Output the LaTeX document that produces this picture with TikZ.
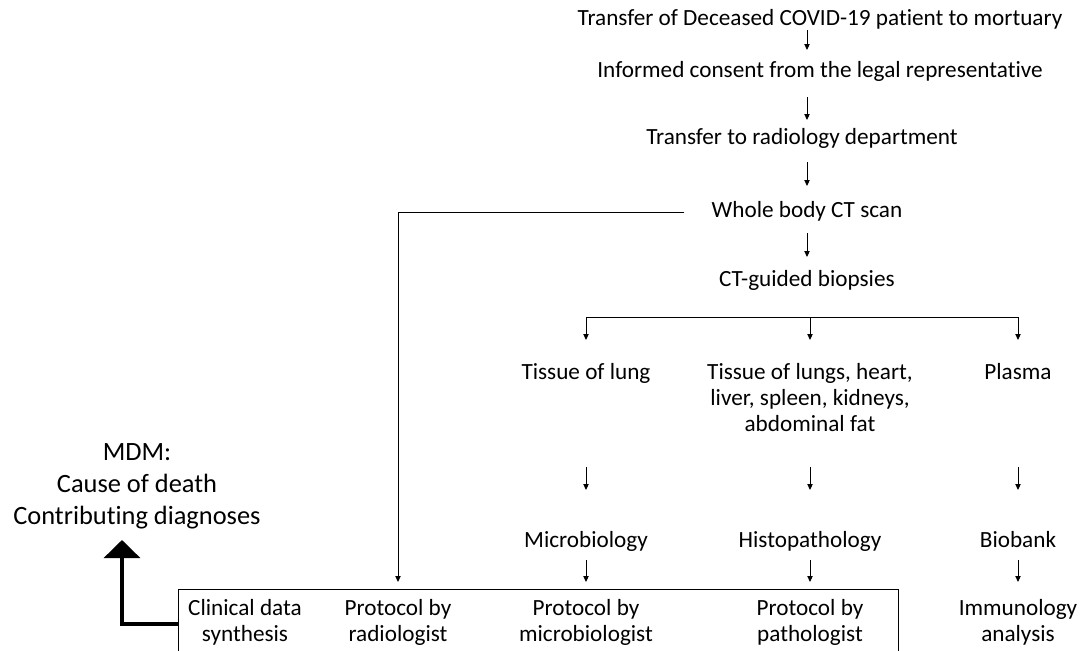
\documentclass[tikz,border=0pt]{standalone}
\usepackage{fontspec}
\setmainfont{Carlito}[Ligatures=NoCommon]
\usetikzlibrary{arrows.meta}
\newdimen\px \px=0.75pt
\begin{document}
\begin{tikzpicture}[x=0.75pt, y=-0.75pt, font=\fontsize{17.4}{19.6}\selectfont,
	txt/.style={inner sep=0pt, align=center, execute at begin node=\strut, execute at end node=\strut},
	link/.style={line width=0.7pt},
	flow/.style={link, -{Triangle[length=4.5pt,width=4pt]}},
	mdmarrow/.style={line width=2.3pt, -{Triangle[length=13.5pt,width=27pt]}}]
	\useasboundingbox (0,0) rectangle (1089,650);
	% steps after death
	\node[txt] (trans) at (820,20) {Transfer of Deceased COVID-19 patient to mortuary};
	\node[txt] (consent) at (820,72) {Informed consent from the legal representative};
	\node[txt] (radio) at (802,139) {Transfer to radiology department};
	\node[txt] (ctscan) at (807,212) {Whole body CT scan};
	\node[txt] (biop) at (807,281) {CT-guided biopsies};
	\draw[flow, shorten <=10\px, shorten >=22\px] (trans -| biop) -- (consent -| biop);
	\draw[flow, shorten <=25\px, shorten >=19\px] (consent -| biop) -- (radio -| biop);
	\draw[flow, shorten <=23\px, shorten >=26\px] (radio -| biop) -- (ctscan.center);
	\draw[flow, shorten <=21\px, shorten >=24\px] (ctscan.center) -- (biop.center);
	% samples
	\coordinate (split) at (807,317);
	\node[txt] (lung) at (586,374) {Tissue of lung};
	\node[txt] (organs) at (810,401) {Tissue of lungs, heart,\\liver, spleen, kidneys,\\abdominal fat};
	\node[txt] (plasma) at (1018,374) {Plasma};
	\draw[link] (split -| lung) -- (split -| plasma);
	\draw[flow, shorten >=34\px] (split -| lung) -- (lung.center);
	\draw[flow, shorten >=61\px] (split -| organs) -- (organs.center);
	\draw[flow, shorten >=34\px] (split -| plasma) -- (plasma.center);
	% analyses
	\node[txt] (micro) at (586,542) {Microbiology};
	\node[txt] (histo) at (810,542) {Histopathology};
	\node[txt] (biobank) at (1018,542) {Biobank};
	\draw[flow, shorten <=93\px, shorten >=52\px] (lung.center) -- (micro.center);
	\draw[flow, shorten <=66\px, shorten >=52\px] (organs.center) -- (histo.center);
	\draw[flow, shorten <=93\px, shorten >=52\px] (plasma.center) -- (biobank.center);
	% protocols
	\node[draw, link, inner sep=0pt, minimum width=720\px, minimum height=70\px] (protbox) at (538,624) {};
	\node[txt] (clin) at (245,624) {Clinical data\\synthesis};
	\node[txt] (pradio) at (398,624) {Protocol by\\radiologist};
	\node[txt] (pmicro) at (586,624) {Protocol by\\microbiologist};
	\node[txt] (ppath) at (810,624) {Protocol by\\pathologist};
	\node[txt] (immuno) at (1018,624) {Immunology\\analysis};
	\draw[flow, shorten <=18\px, shorten >=42\px] (micro.center) -- (pmicro.center);
	\draw[flow, shorten <=18\px, shorten >=42\px] (histo.center) -- (ppath.center);
	\draw[flow, shorten <=18\px, shorten >=42\px] (biobank.center) -- (immuno.center);
	\draw[flow, shorten <=27\px, shorten >=42\px] (ctscan.west) -| (pradio.center);
	% conference
	\node[txt, font=\fontsize{19.8}{23.8}\selectfont] (mdm) at (137,489) {MDM:\\Cause of death\\Contributing diagnoses};
	\coordinate (mdmtip) at (122,540);
	\draw[mdmarrow] (protbox.west) -| (mdmtip);
\end{tikzpicture}
\end{document}
